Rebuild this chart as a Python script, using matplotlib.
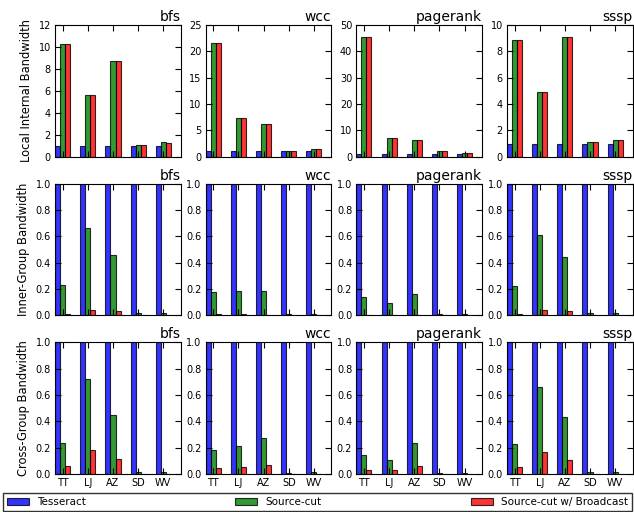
import numpy as np
import matplotlib
matplotlib.use("Agg")
import matplotlib.pyplot as plt

graphs = ["TT", "LJ", "AZ", "SD", "WV"]
algos = ["bfs", "wcc", "pagerank", "sssp"]
series = ["Tesseract", "Source-cut", "Source-cut w/ Broadcast"]
row_labels = ["Local Internal Bandwidth", "Inner-Group Bandwidth", "Cross-Group Bandwidth"]

# local internal bandwidth (normalised to Tesseract)
local_tess = {
    "bfs": [1, 1, 1, 1, 1],
    "wcc": [1, 1, 1, 1, 1],
    "pagerank": [1, 1, 1, 1, 1],
    "sssp": [1, 1, 1, 1, 1],
}
local_sc = {
    "bfs": [10.25, 5.6, 8.75, 1.06, 1.33],
    "wcc": [21.55, 7.3, 6.15, 1.08, 1.4],
    "pagerank": [45.5, 7.2, 6.3, 2.2, 1.4],
    "sssp": [8.88, 4.92, 9.06, 1.12, 1.27],
}
local_bc = {
    "bfs": [10.25, 5.6, 8.75, 1.06, 1.25],
    "wcc": [21.6, 7.3, 6.15, 1.08, 1.4],
    "pagerank": [45.5, 7.2, 6.3, 2.2, 1.4],
    "sssp": [8.88, 4.92, 9.09, 1.12, 1.27],
}

# inner-group bandwidth
inner_tess = {
    "bfs": [1, 1, 1, 1, 1],
    "wcc": [1, 1, 1, 1, 1],
    "pagerank": [1, 1, 1, 1, 1],
    "sssp": [1, 1, 1, 1, 1],
}
inner_sc = {
    "bfs": [0.228, 0.662, 0.457, 0.015, 0.015],
    "wcc": [0.175, 0.188, 0.188, 0.013, 0.013],
    "pagerank": [0.14, 0.094, 0.165, 0.012, 0.008],
    "sssp": [0.22, 0.61, 0.447, 0.015, 0.015],
}
inner_bc = {
    "bfs": [0.013, 0.038, 0.03, 0.002, 0.001],
    "wcc": [0.008, 0.008, 0.007, 0.002, 0.001],
    "pagerank": [0.007, 0.003, 0.006, 0.001, 0.001],
    "sssp": [0.012, 0.038, 0.03, 0.002, 0.001],
}

# cross-group bandwidth
cross_tess = {
    "bfs": [1, 1, 1, 1, 1],
    "wcc": [1, 1, 1, 1, 1],
    "pagerank": [1, 1, 1, 1, 1],
    "sssp": [1, 1, 1, 1, 1],
}
cross_sc = {
    "bfs": [0.233, 0.72, 0.446, 0.015, 0.015],
    "wcc": [0.182, 0.21, 0.276, 0.012, 0.015],
    "pagerank": [0.142, 0.104, 0.24, 0.012, 0.01],
    "sssp": [0.225, 0.663, 0.435, 0.018, 0.018],
}
cross_bc = {
    "bfs": [0.058, 0.18, 0.111, 0.004, 0.003],
    "wcc": [0.046, 0.053, 0.068, 0.003, 0.002],
    "pagerank": [0.035, 0.028, 0.058, 0.003, 0.002],
    "sssp": [0.056, 0.165, 0.109, 0.004, 0.003],
}

rows = [
    (local_tess, local_sc, local_bc),
    (inner_tess, inner_sc, inner_bc),
    (cross_tess, cross_sc, cross_bc),
]
local_ylim = {"bfs": (0, 12), "wcc": (0, 25), "pagerank": (0, 50), "sssp": (0, 10)}

colors = ["b", "g", "r"]
width = 0.2
x = np.arange(len(graphs))

fig, axes = plt.subplots(3, 4, figsize=(6.34, 5.12), dpi=100)
fig.subplots_adjust(left=0.087, right=0.998, top=0.951, bottom=0.074,
                    wspace=0.198, hspace=0.205)

handles = []
for r, data in enumerate(rows):
    for c, algo in enumerate(algos):
        ax = axes[r, c]
        for k in range(3):
            b = ax.bar(x + k * width, data[k][algo], width, align="edge",
                       color=colors[k], alpha=0.8, edgecolor="black", linewidth=0.8)
            if r == 0 and c == 0:
                handles.append(b)
        ax.set_xlim(0, 5)
        if r == 0:
            ax.set_ylim(*local_ylim[algo])
        else:
            ax.set_ylim(0, 1.0)
            ax.set_yticks([0, 0.2, 0.4, 0.6, 0.8, 1.0])
        ax.set_xticks(x + 1.5 * width)
        if r == 2:
            ax.set_xticklabels(graphs)
        else:
            ax.set_xticklabels([])
        ax.tick_params(direction="in", top=True, right=True, labelsize=7,
                       length=4, pad=3)
        ax.set_title(algo, loc="right", fontsize=10, pad=3)
        if c == 0:
            ax.set_ylabel(row_labels[r], fontsize=8.3)

fig.legend(handles, series, loc="lower left", ncol=3, mode="expand",
           bbox_to_anchor=(0.005, 0.002, 0.992, 0.05), fontsize=7.5,
           frameon=True, fancybox=False, edgecolor="black",
           handlelength=2.1, borderaxespad=0.0)

plt.savefig("out.png")
